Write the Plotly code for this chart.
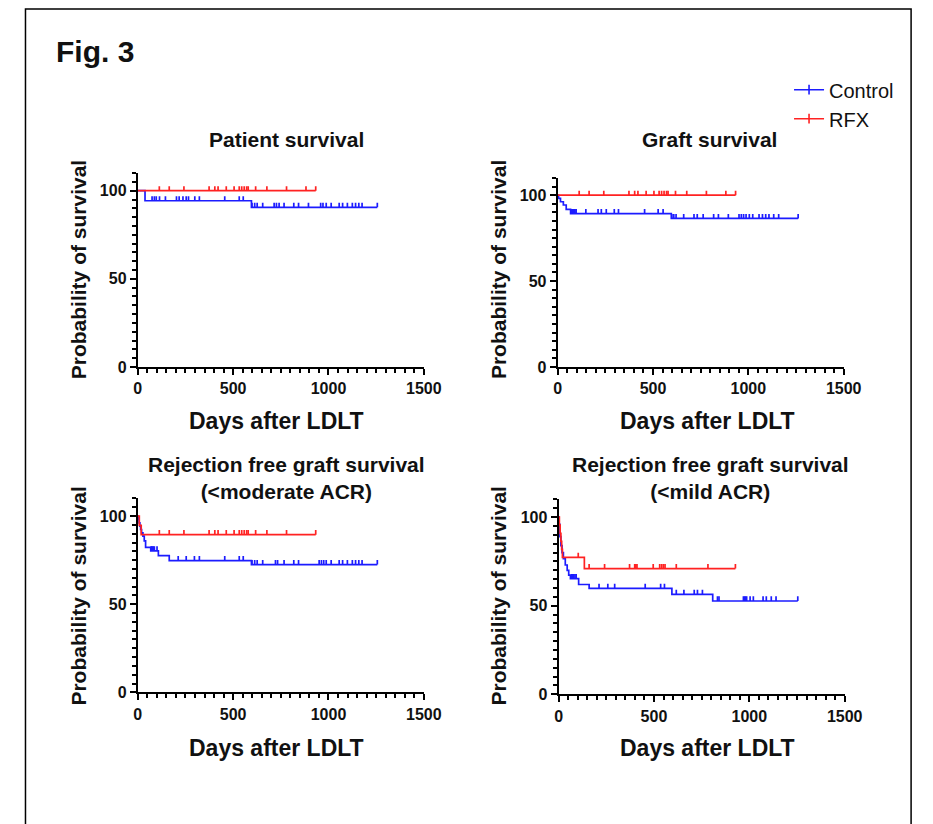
import plotly.graph_objects as go

FONT = "Liberation Sans, Arial, sans-serif"
BLUE = "#1c1cff"
RED = "#ff2222"
TXT = "#111111"

# ---------------- data ----------------
x_tick_vals = [0, 500, 1000, 1500]
y_tick_vals = [0, 50, 100]

panel_titles = ["Patient survival", "Graft survival",
                "Rejection free graft survival<br>(&lt;moderate ACR)",
                "Rejection free graft survival<br>(&lt;mild ACR)"]
group_names = ["Control", "RFX"]

# Panel 1: patient survival
p1_ctrl_event_days = [38, 596]
p1_ctrl_surv = [94.3, 90.6]
p1_ctrl_censor_days = [75, 87, 97, 114, 145, 203, 217, 237, 254, 266, 299, 323, 456, 532, 553,
                       599, 613, 626, 655, 715, 727, 741, 767, 818, 843, 895, 959, 971, 988, 1014,
                       1056, 1074, 1099, 1125, 1142, 1159, 1176, 1256]
p1_ctrl_end = 1256
p1_rfx_event_days = []
p1_rfx_surv = []
p1_rfx_censor_days = [113, 165, 242, 374, 404, 421, 464, 505, 532, 545, 558, 571, 579, 618, 677,
                      780, 882, 933]
p1_rfx_end = 933

# Panel 2: graft survival
p2_ctrl_event_days = [5, 15, 30, 45, 68, 596]
p2_ctrl_surv = [98.1, 96.2, 94.3, 91.7, 89.3, 86.5]
p2_ctrl_censor_days = [70, 74, 77, 81, 84, 88, 91, 97, 148, 212, 229, 255, 297, 319, 456, 527, 553,
                       599, 609, 621, 661, 715, 732, 763, 818, 843, 895, 951, 963, 975, 988, 1005,
                       1023, 1056, 1074, 1091, 1108, 1133, 1159, 1261]
p2_ctrl_end = 1261
p2_rfx_event_days = []
p2_rfx_surv = []
p2_rfx_censor_days = [113, 165, 242, 374, 404, 421, 464, 505, 532, 545, 558, 571, 579, 618, 677,
                      780, 882, 933]
p2_rfx_end = 933

# Panel 3: rejection free graft survival (<moderate ACR)
p3_ctrl_event_days = [3, 7, 11, 15, 20, 27, 34, 41, 68, 108, 165, 596]
p3_ctrl_surv = [98.1, 96.2, 94.3, 92.4, 90.5, 88.6, 86.0, 82.3, 80.3, 77.6, 74.8, 72.5]
p3_ctrl_censor_days = [70, 74, 78, 82, 87, 101, 212, 254, 297, 323, 456, 532, 553, 599, 613, 626,
                       655, 722, 733, 767, 818, 843, 951, 963, 975, 988, 1014, 1056, 1074, 1099,
                       1125, 1142, 1159, 1176, 1256]
p3_ctrl_end = 1256
p3_rfx_event_days = [8, 18]
p3_rfx_surv = [94.7, 89.5]
p3_rfx_censor_days = [113, 165, 242, 374, 404, 421, 464, 505, 532, 545, 558, 571, 579, 618, 677,
                      780, 933]
p3_rfx_end = 933

# Panel 4: rejection free graft survival (<mild ACR)
p4_ctrl_event_days = [3, 7, 12, 18, 25, 35, 45, 53, 62, 105, 160, 594, 808]
p4_ctrl_surv = [96.0, 89.0, 84.0, 80.0, 76.6, 73.0, 70.0, 67.3, 65.3, 62.0, 59.8, 56.4, 52.7]
p4_ctrl_censor_days = [68, 72, 76, 80, 86, 92, 212, 258, 294, 454, 535, 555, 617, 657, 711, 728,
                       754, 833, 841, 969, 975, 980, 986, 1004, 1021, 1072, 1089, 1115, 1140, 1254]
p4_ctrl_end = 1254
p4_rfx_event_days = [4, 8, 12, 16, 20, 135]
p4_rfx_surv = [95.5, 90.9, 86.4, 81.8, 77.3, 71.0]
p4_rfx_censor_days = [103, 160, 241, 372, 399, 405, 411, 496, 530, 540, 549, 558, 617, 783, 927]
p4_rfx_end = 927

panels = [
    ((p1_ctrl_event_days, p1_ctrl_surv, p1_ctrl_censor_days, p1_ctrl_end),
     (p1_rfx_event_days, p1_rfx_surv, p1_rfx_censor_days, p1_rfx_end)),
    ((p2_ctrl_event_days, p2_ctrl_surv, p2_ctrl_censor_days, p2_ctrl_end),
     (p2_rfx_event_days, p2_rfx_surv, p2_rfx_censor_days, p2_rfx_end)),
    ((p3_ctrl_event_days, p3_ctrl_surv, p3_ctrl_censor_days, p3_ctrl_end),
     (p3_rfx_event_days, p3_rfx_surv, p3_rfx_censor_days, p3_rfx_end)),
    ((p4_ctrl_event_days, p4_ctrl_surv, p4_ctrl_censor_days, p4_ctrl_end),
     (p4_rfx_event_days, p4_rfx_surv, p4_rfx_censor_days, p4_rfx_end)),
]

# ---------------- layout geometry (screen pixels) ----------------
W, H = 933, 824
TICK_H = 2.6  # censor tick height in % units


def fx(sx):
    return sx / W


def fy(sy):
    return 1 - sy / H


x_domains = [[fx(137), fx(430)], [fx(567), fx(860)], [fx(137), fx(430)], [fx(568), fx(861)]]
y_domains = [[fy(371), fy(175)], [fy(371), fy(180)], [fy(700), fy(504)], [fy(702), fy(505)]]


def surv_at(t, events, surv):
    level = 100.0
    for e, s in zip(events, surv):
        if e <= t:
            level = s
    return level


fig = go.Figure()
colors = [BLUE, RED]

for i, (ctrl, rfx) in enumerate(panels):
    xa = "x" if i == 0 else f"x{i+1}"
    ya = "y" if i == 0 else f"y{i+1}"
    for g, (events, surv, cens, end) in enumerate((ctrl, rfx)):
        col = colors[g]
        xs = [0] + list(events) + [end]
        ys = [100.0] + list(surv) + [surv[-1] if surv else 100.0]
        fig.add_trace(go.Scatter(x=xs, y=ys, mode="lines", line=dict(color=col, width=1.7, shape="hv"),
                                 xaxis=xa, yaxis=ya, showlegend=False, hoverinfo="skip"))
        cx, cy = [], []
        for t in cens:
            lv = surv_at(t, events, surv)
            cx += [t, t, None]
            cy += [lv, lv + TICK_H, None]
        fig.add_trace(go.Scatter(x=cx, y=cy, mode="lines", line=dict(color=col, width=1.7),
                                 xaxis=xa, yaxis=ya, showlegend=False, hoverinfo="skip"))

# legend entries
for g, name in enumerate(group_names):
    fig.add_trace(go.Scatter(x=[None], y=[None], mode="lines+markers", name=name,
                             line=dict(color=colors[g], width=1.6),
                             marker=dict(symbol="line-ns", size=7, line=dict(color=colors[g], width=1.6)),
                             showlegend=True))

axis_font = dict(family=FONT, size=16, color=TXT, weight="bold")
for i in range(4):
    xk = "xaxis" if i == 0 else f"xaxis{i+1}"
    yk = "yaxis" if i == 0 else f"yaxis{i+1}"
    ya = "y" if i == 0 else f"y{i+1}"
    xa = "x" if i == 0 else f"x{i+1}"
    fig.layout[xk] = dict(domain=x_domains[i], anchor=ya, range=[0, 1500], tickvals=x_tick_vals,
                          showline=True, linewidth=2, linecolor="black", ticks="outside", ticklen=6,
                          tickwidth=2, tickcolor="black", showgrid=False, zeroline=False,
                          tickfont=axis_font,
                          minor=dict(tick0=0, dtick=50, ticks="outside", ticklen=4, tickwidth=1.5,
                                     tickcolor="black", showgrid=False))
    fig.layout[yk] = dict(domain=y_domains[i], anchor=xa, range=[0, 110], tickvals=y_tick_vals,
                          showline=True, linewidth=2, linecolor="black", ticks="outside", ticklen=6,
                          tickwidth=2, tickcolor="black", showgrid=False, zeroline=False,
                          tickfont=axis_font,
                          minor=dict(tick0=0, dtick=5, ticks="outside", ticklen=4, tickwidth=1.5,
                                     tickcolor="black", showgrid=False))

title_font = dict(family=FONT, size=21, color=TXT, weight="bold")
ann = []
# figure label
ann.append(dict(text="Fig. 3", x=fx(51), y=fy(52), xref="paper", yref="paper", xanchor="left",
                yanchor="middle", showarrow=False, font=dict(family=FONT, size=30, color=TXT, weight="bold")))
# panel titles
title_pos = [(289, 141), (723, 141), (289, 483), (724, 483)]
for (tx, ty), t in zip(title_pos, panel_titles):
    ann.append(dict(text=t, x=fx(tx), y=fy(ty), xref="paper", yref="paper", xanchor="center",
                    yanchor="middle", showarrow=False, font=title_font))
# x axis titles
for tx, ty in [(279, 426), (721, 426), (279, 756), (721, 756)]:
    ann.append(dict(text="Days after LDLT", x=fx(tx), y=fy(ty), xref="paper", yref="paper",
                    xanchor="center", yanchor="middle", showarrow=False,
                    font=dict(family=FONT, size=23, color=TXT, weight="bold")))
# y axis titles
for tx, ty in [(76, 273), (506, 273), (76, 603), (506, 603)]:
    ann.append(dict(text="Probability of survival", x=fx(tx), y=fy(ty), xref="paper", yref="paper",
                    xanchor="center", yanchor="middle", textangle=-90, showarrow=False,
                    font=dict(family=FONT, size=21, color=TXT, weight="bold")))

fig.update_layout(
    width=W, height=H, margin=dict(l=0, r=0, t=0, b=0),
    paper_bgcolor="white", plot_bgcolor="white",
    annotations=ann,
    showlegend=True,
    legend=dict(x=fx(804), y=fy(71), xanchor="left", yanchor="top", bgcolor="rgba(0,0,0,0)",
                font=dict(family=FONT, size=20, color=TXT), itemwidth=30, tracegroupgap=0),
    shapes=[dict(type="rect", xref="paper", yref="paper", x0=fx(22), x1=fx(929), y0=fy(860),
                 y1=fy(9), line=dict(color="black", width=1.5), fillcolor="rgba(0,0,0,0)")],
)

# remove the default page margin so the 933x824 figure fills the window exactly
fig.write_html("out.html", config={"displayModeBar": False},
               post_script="document.body.style.margin='0';document.body.style.overflow='hidden';")
